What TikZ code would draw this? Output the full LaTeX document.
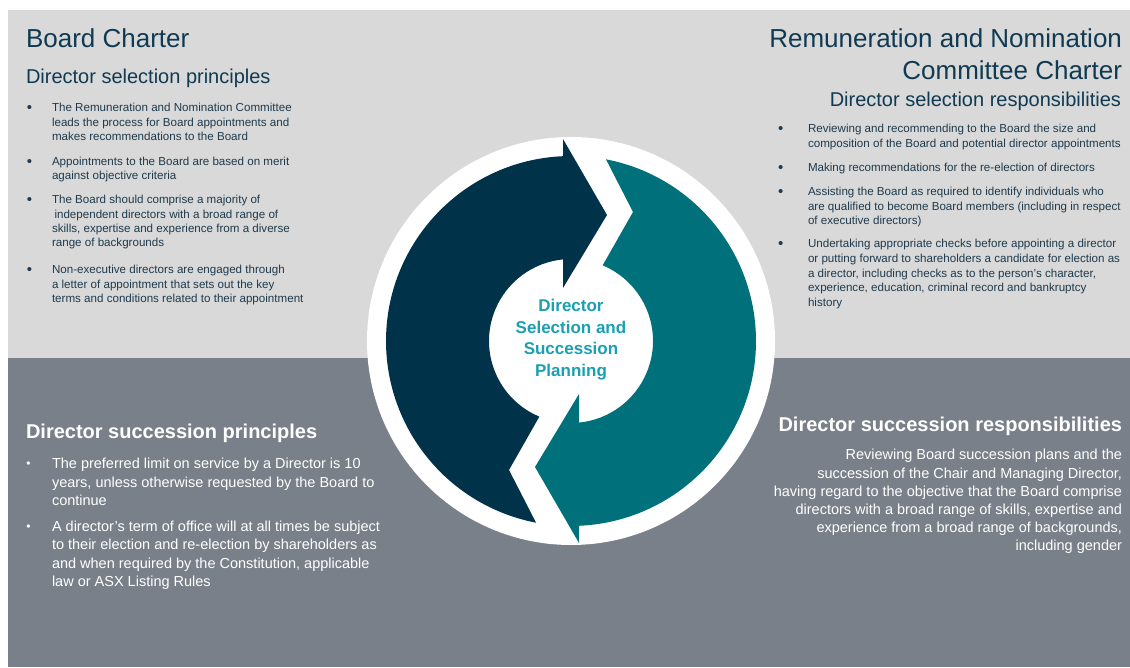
\documentclass[tikz,border=0pt]{standalone}
\usepackage{fontspec}
\setmainfont{Liberation Sans}
\definecolor{navy}{HTML}{00334A}
\definecolor{arrowteal}{HTML}{00707B}
\definecolor{centertxt}{HTML}{1AA0B2}
\definecolor{lightpanel}{HTML}{D9D9D9}
\definecolor{darkpanel}{HTML}{7A8089}
\definecolor{headtxt}{HTML}{0F3A52}
\definecolor{bodytxt}{HTML}{1E3A4C}
\newcommand{\arrowshape}[2]{%
  \fill[#1,#2] (-8,184.8) arc[start angle=92.48, end angle=259.1, radius=185]
    -- (-62,-129) -- (247.3:82) arc[start angle=247.3, end angle=95.6, radius=82]
    -- (-8,53) -- (36,126) -- (-8,202) -- cycle;}
\newcommand{\bigbullet}{\hspace*{1pt}{\fontsize{15}{15}\selectfont\raisebox{-1pt}{\textbullet}}}
\newcommand{\topitem}[1]{\parbox[t]{420pt}{\raggedright\fontsize{11.6}{14.3}\selectfont\leftskip=26pt\noindent\hspace*{-26pt}\makebox[26pt][l]{\bigbullet}#1}}
\newcommand{\rightitem}[1]{\parbox[t]{420pt}{\raggedright\fontsize{11.6}{14.6}\selectfont\leftskip=31pt\noindent\hspace*{-31pt}\makebox[31pt][l]{\bigbullet}#1}}
\newcommand{\botitem}[1]{\parbox[t]{420pt}{\raggedright\fontsize{14.5}{18.2}\selectfont\leftskip=26pt\noindent\hspace*{-26pt}\makebox[26pt][l]{\hspace{0.5pt}\fontsize{12}{12}\selectfont\raisebox{1pt}{\textbullet}}#1}}
\tikzset{
  txt/.style={inner sep=0pt, outer sep=0pt},
  toptxt/.style={txt, anchor=base west, text=bodytxt},
  bottxt/.style={txt, anchor=base west, text=white},
}
\begin{document}
\begin{tikzpicture}[x=1pt,y=1pt]
\useasboundingbox (0,0) rectangle (1130,667);
\fill[white] (0,0) rectangle (1130,667);
\fill[lightpanel] (8,309) rectangle (1130,657);
\fill[darkpanel] (8,0) rectangle (1130,309);

% circle diagram
\begin{scope}[shift={(571,326)}]
  \fill[white] (0,0) circle[radius=204];
  \arrowshape{navy}{}
  \arrowshape{arrowteal}{rotate=180}
\end{scope}
\node[txt, anchor=base, text=centertxt, font=\bfseries] (centre) at (571,355.3)
  {\parbox[t]{160pt}{\centering\fontsize{17}{21.5}\selectfont Director\\Selection and\\Succession\\Planning}};

% top left
\node[txt, anchor=base west, text=headtxt, font=\fontsize{26}{30}\selectfont] (bc) at (26,619) {Board Charter};
\node[txt, anchor=base west, text=headtxt, font=\fontsize{20}{24}\selectfont] (dsp) at (26,583) {Director selection principles};
\node[toptxt] (tl1) at (26,555) {\topitem{The Remuneration and Nomination Committee\\leads the process for Board appointments and\\makes recommendations to the Board}};
\node[toptxt] (tl2) at (26,501.3) {\topitem{Appointments to the Board are based on merit\\against objective criteria}};
\node[toptxt] (tl3) at (26,463) {\topitem{The Board should comprise a majority of\\\hspace*{2.5pt}independent directors with a broad range of\\skills, expertise and experience from a diverse\\range of backgrounds}};
\node[toptxt] (tl4) at (26,393) {\topitem{Non-executive directors are engaged through\\a letter of appointment that sets out the key\\terms and conditions related to their appointment}};

% top right
\node[txt, anchor=base east, text=headtxt] (rnc) at (1122,619)
  {\parbox[t]{500pt}{\raggedleft\fontsize{26}{32}\selectfont Remuneration and Nomination\\Committee Charter}};
\node[txt, anchor=base east, text=headtxt, font=\fontsize{20}{24}\selectfont] (dsr) at (1121,560) {Director selection responsibilities};
\node[toptxt] (tr1) at (777,534) {\rightitem{Reviewing and recommending to the Board the size and\\composition of the Board and potential director appointments}};
\node[toptxt] (tr2) at (777,495.3) {\rightitem{Making recommendations for the re-election of directors}};
\node[toptxt] (tr3) at (777,471.3) {\rightitem{Assisting the Board as required to identify individuals who\\are qualified to become Board members (including in respect\\of executive directors)}};
\node[toptxt] (tr4) at (777,419) {\rightitem{Undertaking appropriate checks before appointing a director\\or putting forward to shareholders a candidate for election as\\a director, including checks as to the person’s character,\\experience, education, criminal record and bankruptcy\\history}};

% bottom left
\node[txt, anchor=base west, text=white, font=\bfseries\fontsize{20}{24}\selectfont] (dsucp) at (26,228) {Director succession principles};
\node[bottxt] (bl1) at (26,198) {\botitem{The preferred limit on service by a Director is 10\\years, unless otherwise requested by the Board to\\continue}};
\node[bottxt] (bl2) at (26,135.3) {\botitem{A director’s term of office will at all times be subject\\to their election and re-election by shareholders as\\and when required by the Constitution, applicable\\law or ASX Listing Rules}};

% bottom right
\node[txt, anchor=base east, text=white, font=\bfseries\fontsize{20}{24}\selectfont] (dsucr) at (1122,235) {Director succession responsibilities};
\node[txt, anchor=base east, text=white] (br) at (1122,207)
  {\parbox[t]{500pt}{\raggedleft\fontsize{14.5}{18.1}\selectfont Reviewing Board succession plans and the\\succession of the Chair and Managing Director,\\having regard to the objective that the Board comprise\\directors with a broad range of skills, expertise and\\experience from a broad range of backgrounds,\\including gender}};
\end{tikzpicture}
\end{document}
